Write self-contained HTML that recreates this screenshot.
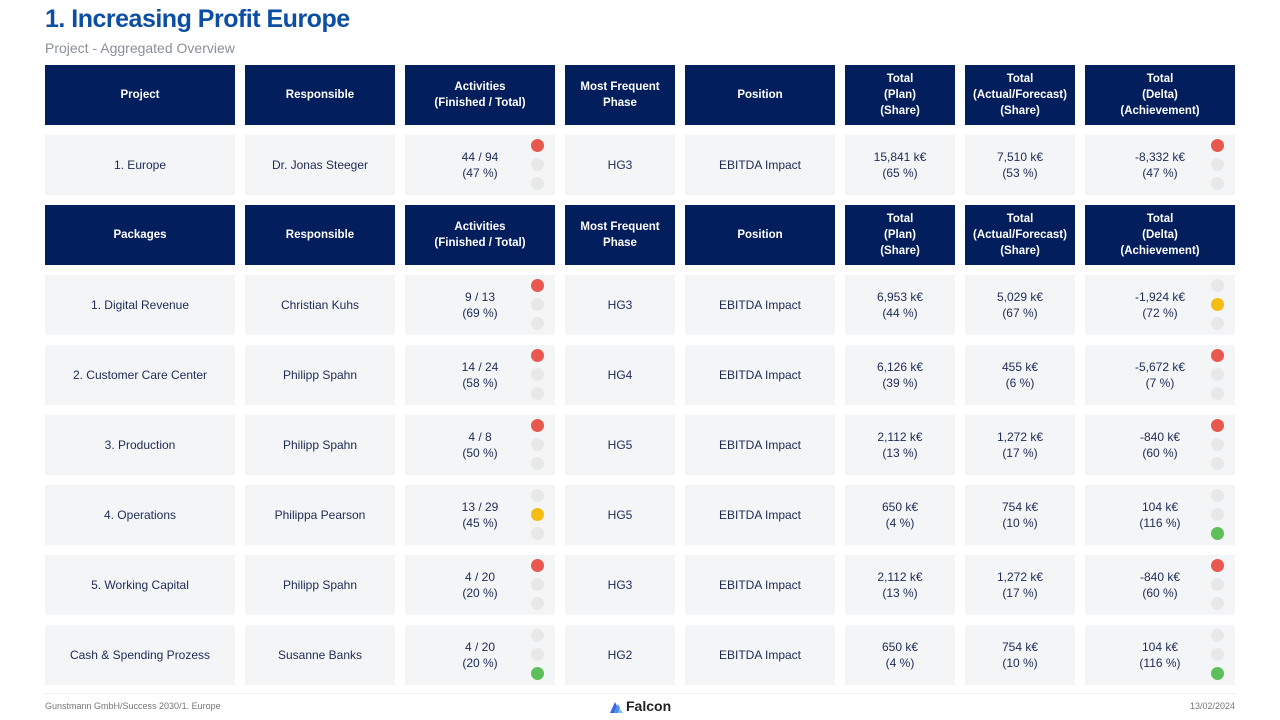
<!DOCTYPE html><html><head><meta charset="utf-8"><style>
body{margin:0;width:1280px;height:720px;background:#fff;font-family:"Liberation Sans",sans-serif;position:relative;overflow:hidden}
.t{position:absolute;left:45px;top:5px;font-size:25px;font-weight:bold;color:#0b4ea2;letter-spacing:-0.5px}
.s{position:absolute;left:45px;top:40px;font-size:14px;color:#8a9099}
.r{position:absolute;left:45px;display:flex;gap:10px;height:60px}
.r div{position:relative;height:60px;display:flex;align-items:center;justify-content:center;text-align:center;font-size:12px;line-height:16px}
.h div{background:#031e5c;color:#fff;font-weight:bold;font-size:11.5px}
.d div{background:#f4f5f7;color:#1c2a55}
.w1{width:190px}.w2{width:150px}.w3{width:110px}
i{position:absolute;right:11px;width:13px;height:13px;border-radius:50%;background:#e8e8e8}
i.a{top:4px}i.b{top:23px}i.c{top:42px}
i.R{background:#e9584f}i.Y{background:#f5bd13}i.G{background:#5cbf5a}
.f{position:absolute;top:701px;font-size:9px;color:#777}
.ln{position:absolute;left:45px;width:1190px;top:693px;border-top:1px solid #eee}
</style></head><body>
<div class="t">1. Increasing Profit Europe</div>
<div class="s">Project - Aggregated Overview</div>

<div class="r h" style="top:65px"><div class="w1">Project</div><div class="w2">Responsible</div><div class="w2">Activities<br>(Finished / Total)</div><div class="w3">Most Frequent<br>Phase</div><div class="w2">Position</div><div class="w3">Total<br>(Plan)<br>(Share)</div><div class="w3">Total<br>(Actual/Forecast)<br>(Share)</div><div class="w2">Total<br>(Delta)<br>(Achievement)</div></div>

<div class="r d" style="top:135px"><div class="w1">1. Europe</div><div class="w2">Dr. Jonas Steeger</div><div class="w2">44 / 94<br>(47 %)<i class="a R"></i><i class="b"></i><i class="c"></i></div><div class="w3">HG3</div><div class="w2">EBITDA Impact</div><div class="w3">15,841 k€<br>(65 %)</div><div class="w3">7,510 k€<br>(53 %)</div><div class="w2">-8,332 k€<br>(47 %)<i class="a R"></i><i class="b"></i><i class="c"></i></div></div>

<div class="r h" style="top:205px"><div class="w1">Packages</div><div class="w2">Responsible</div><div class="w2">Activities<br>(Finished / Total)</div><div class="w3">Most Frequent<br>Phase</div><div class="w2">Position</div><div class="w3">Total<br>(Plan)<br>(Share)</div><div class="w3">Total<br>(Actual/Forecast)<br>(Share)</div><div class="w2">Total<br>(Delta)<br>(Achievement)</div></div>

<div class="r d" style="top:275px"><div class="w1">1. Digital Revenue</div><div class="w2">Christian Kuhs</div><div class="w2">9 / 13<br>(69 %)<i class="a R"></i><i class="b"></i><i class="c"></i></div><div class="w3">HG3</div><div class="w2">EBITDA Impact</div><div class="w3">6,953 k€<br>(44 %)</div><div class="w3">5,029 k€<br>(67 %)</div><div class="w2">-1,924 k€<br>(72 %)<i class="a"></i><i class="b Y"></i><i class="c"></i></div></div>

<div class="r d" style="top:345px"><div class="w1">2. Customer Care Center</div><div class="w2">Philipp Spahn</div><div class="w2">14 / 24<br>(58 %)<i class="a R"></i><i class="b"></i><i class="c"></i></div><div class="w3">HG4</div><div class="w2">EBITDA Impact</div><div class="w3">6,126 k€<br>(39 %)</div><div class="w3">455 k€<br>(6 %)</div><div class="w2">-5,672 k€<br>(7 %)<i class="a R"></i><i class="b"></i><i class="c"></i></div></div>

<div class="r d" style="top:415px"><div class="w1">3. Production</div><div class="w2">Philipp Spahn</div><div class="w2">4 / 8<br>(50 %)<i class="a R"></i><i class="b"></i><i class="c"></i></div><div class="w3">HG5</div><div class="w2">EBITDA Impact</div><div class="w3">2,112 k€<br>(13 %)</div><div class="w3">1,272 k€<br>(17 %)</div><div class="w2">-840 k€<br>(60 %)<i class="a R"></i><i class="b"></i><i class="c"></i></div></div>

<div class="r d" style="top:485px"><div class="w1">4. Operations</div><div class="w2">Philippa Pearson</div><div class="w2">13 / 29<br>(45 %)<i class="a"></i><i class="b Y"></i><i class="c"></i></div><div class="w3">HG5</div><div class="w2">EBITDA Impact</div><div class="w3">650 k€<br>(4 %)</div><div class="w3">754 k€<br>(10 %)</div><div class="w2">104 k€<br>(116 %)<i class="a"></i><i class="b"></i><i class="c G"></i></div></div>

<div class="r d" style="top:555px"><div class="w1">5. Working Capital</div><div class="w2">Philipp Spahn</div><div class="w2">4 / 20<br>(20 %)<i class="a R"></i><i class="b"></i><i class="c"></i></div><div class="w3">HG3</div><div class="w2">EBITDA Impact</div><div class="w3">2,112 k€<br>(13 %)</div><div class="w3">1,272 k€<br>(17 %)</div><div class="w2">-840 k€<br>(60 %)<i class="a R"></i><i class="b"></i><i class="c"></i></div></div>

<div class="r d" style="top:625px"><div class="w1">Cash &amp; Spending Prozess</div><div class="w2">Susanne Banks</div><div class="w2">4 / 20<br>(20 %)<i class="a"></i><i class="b"></i><i class="c G"></i></div><div class="w3">HG2</div><div class="w2">EBITDA Impact</div><div class="w3">650 k€<br>(4 %)</div><div class="w3">754 k€<br>(10 %)</div><div class="w2">104 k€<br>(116 %)<i class="a"></i><i class="b"></i><i class="c G"></i></div></div>

<div class="ln"></div>
<div class="f" style="left:45px">Gunstmann GmbH/Success 2030/1. Europe</div>
<div class="f" style="right:45px">13/02/2024</div>
<svg style="position:absolute;left:610px;top:700px" width="14" height="13"><polygon points="0,13 5,2 7,6 4,13" fill="#3a66e0"/><polygon points="4,13 8,4 10,8 8,13" fill="#4a8ff0"/><polygon points="8,13 10,9 13,13" fill="#6fc0f5"/></svg>
<div style="position:absolute;left:626px;top:698px;font-size:14px;font-weight:bold;color:#222">Falcon</div>
</body></html>
